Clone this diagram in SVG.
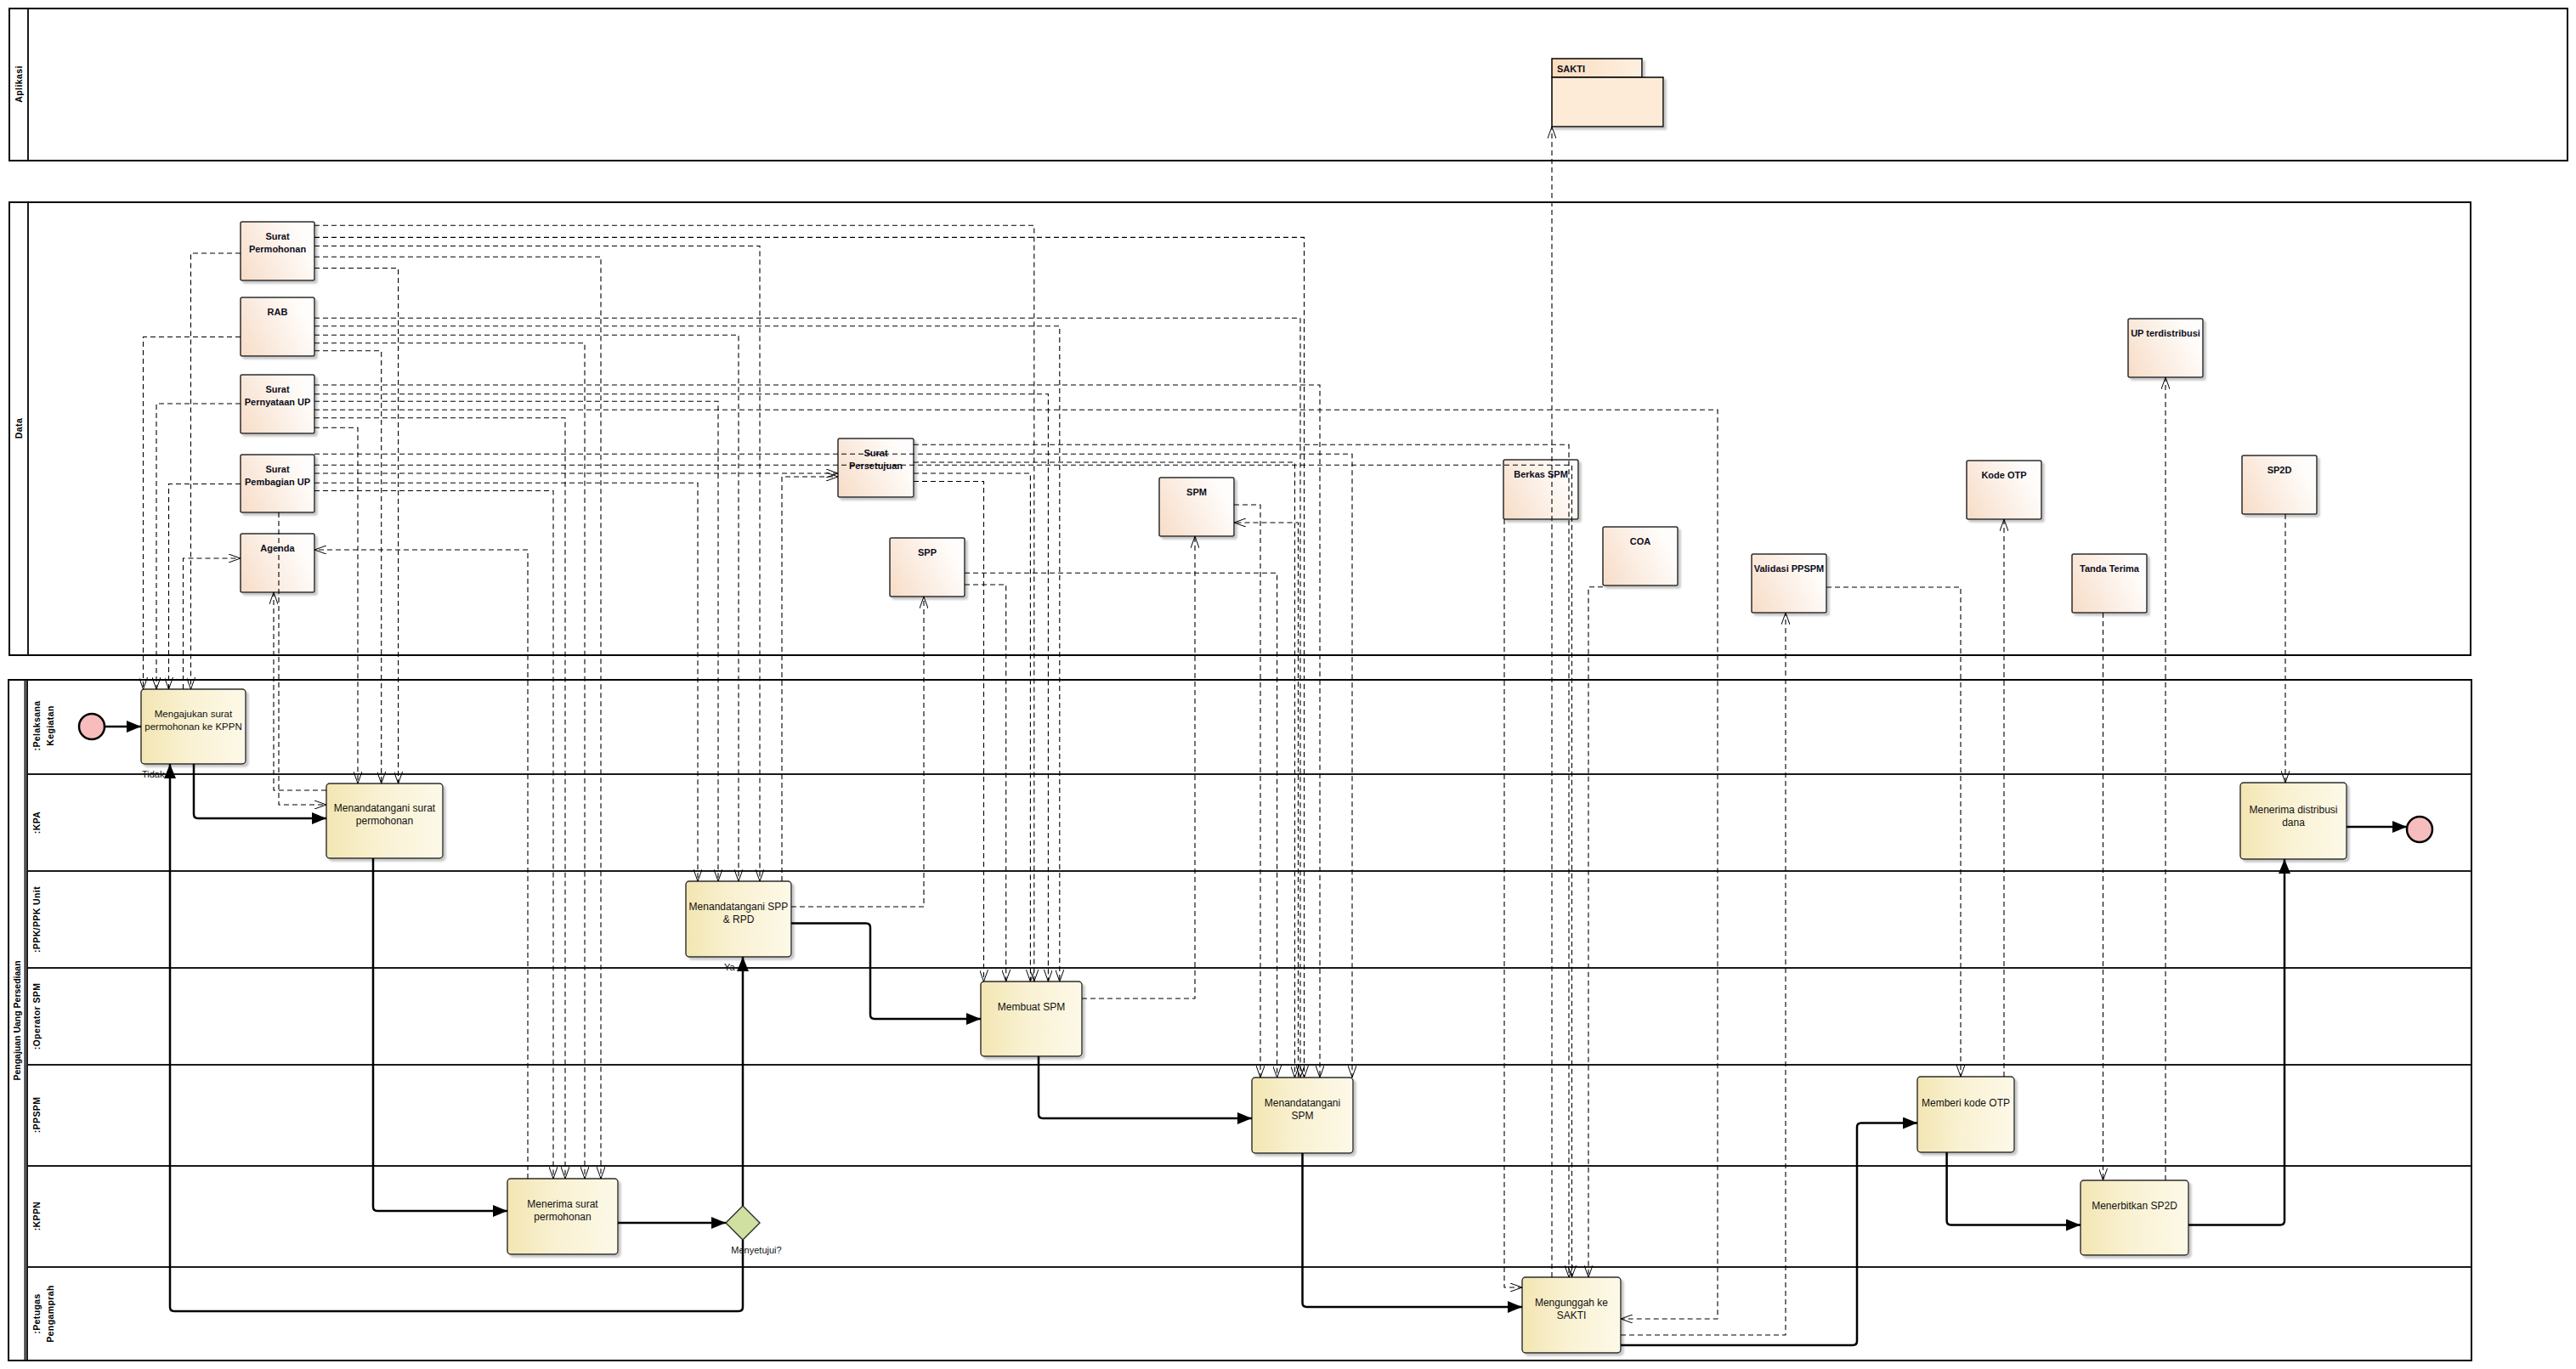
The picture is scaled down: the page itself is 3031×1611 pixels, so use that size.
<svg xmlns="http://www.w3.org/2000/svg" width="3031" height="1611" viewBox="0 0 3031 1611">
<defs>
<linearGradient id="gt" x1="0" y1="0" x2="1" y2="0"><stop offset="0" stop-color="#f3e6b3"/><stop offset="0.45" stop-color="#f9f1d2"/><stop offset="1" stop-color="#fdf9e8"/></linearGradient>
<linearGradient id="gd" x1="0" y1="1" x2="1" y2="0.6"><stop offset="0" stop-color="#f7dcc6"/><stop offset="0.5" stop-color="#fbede2"/><stop offset="1" stop-color="#fffdfb"/></linearGradient>
<linearGradient id="gk" x1="0" y1="0" x2="1" y2="0"><stop offset="0" stop-color="#fcdcbd"/><stop offset="1" stop-color="#fdf0e2"/></linearGradient>
<filter id="sh" x="-10%" y="-10%" width="130%" height="130%"><feDropShadow dx="3" dy="3" stdDeviation="1.2" flood-color="#9a9a9a" flood-opacity="0.55"/></filter>
<marker id="oa" viewBox="0 0 14 10" refX="14" refY="5" markerWidth="14" markerHeight="10" markerUnits="userSpaceOnUse" orient="auto"><path d="M0,0 L14,5 L0,10" fill="none" stroke="#000" stroke-width="1"/></marker>
<marker id="fa" viewBox="0 0 17 14" refX="17" refY="7" markerWidth="17" markerHeight="14" markerUnits="userSpaceOnUse" orient="auto"><path d="M0,0 L17,7 L0,14z" fill="#000"/></marker>
<style>
.pool{fill:#fff;stroke:#000;stroke-width:2}
.lane{stroke:#1a1a1a;stroke-width:2}
.task{fill:url(#gt);stroke:#2b2b2b;stroke-width:1.4;filter:url(#sh)}
.data{fill:url(#gd);stroke:#2b2b2b;stroke-width:1.5;filter:url(#sh)}
.tt{font-family:"Liberation Sans",Arial,sans-serif;font-size:12px;fill:#111;text-anchor:middle}
.dt{font-family:"Liberation Sans",Arial,sans-serif;font-size:11px;font-weight:bold;fill:#0d0d1a;text-anchor:middle}
.ll{font-family:"Liberation Sans",Arial,sans-serif;font-size:10.5px;font-weight:bold;fill:#000;text-anchor:middle;letter-spacing:0.4px}
.lb{font-family:"Liberation Sans",Arial,sans-serif;font-size:11px;fill:#111}
.d{fill:none;stroke:#000;stroke-width:1.1;stroke-dasharray:6 4;marker-end:url(#oa)}
.s{fill:none;stroke:#000;stroke-width:2.5;stroke-linejoin:round;marker-end:url(#fa)}
</style>
</defs>
<rect width="3031" height="1611" fill="#fff"/>

<g id="pool-aplikasi">
<rect class="pool" x="11" y="10" width="3010" height="179"/>
<line class="lane" x1="33" y1="10" x2="33" y2="189"/>
<text class="ll" transform="translate(26,99) rotate(-90)">Aplikasi</text>
</g>
<g id="pool-data">
<rect class="pool" x="11" y="238" width="2896" height="533"/>
<line class="lane" x1="33" y1="238" x2="33" y2="771"/>
<text class="ll" transform="translate(26,504) rotate(-90)">Data</text>
</g>
<g id="pool-proses">
<rect class="pool" x="10" y="800" width="2898" height="801"/>
<line class="lane" x1="29.5" y1="800" x2="29.5" y2="1601"/>
<line class="lane" x1="32" y1="800" x2="32" y2="1601"/>
<text class="ll" transform="translate(24,1201) rotate(-90)" style="letter-spacing:0">Pengajuan Uang Persediaan</text>
<line class="lane" x1="32" y1="911" x2="2908" y2="911"/>
<line class="lane" x1="32" y1="1025" x2="2908" y2="1025"/>
<line class="lane" x1="32" y1="1139" x2="2908" y2="1139"/>
<line class="lane" x1="32" y1="1253" x2="2908" y2="1253"/>
<line class="lane" x1="32" y1="1372" x2="2908" y2="1372"/>
<line class="lane" x1="32" y1="1491" x2="2908" y2="1491"/>
<text class="ll" transform="translate(47,854) rotate(-90)">:Pelaksana</text>
<text class="ll" transform="translate(63,854) rotate(-90)">Kegiatan</text>
<text class="ll" transform="translate(47,968) rotate(-90)">:KPA</text>
<text class="ll" transform="translate(47,1082) rotate(-90)">:PPK/PPK Unit</text>
<text class="ll" transform="translate(47,1196) rotate(-90)">:Operator SPM</text>
<text class="ll" transform="translate(47,1312) rotate(-90)">:PPSPM</text>
<text class="ll" transform="translate(47,1431) rotate(-90)">:KPPN</text>
<text class="ll" transform="translate(47,1546) rotate(-90)">:Petugas</text>
<text class="ll" transform="translate(63,1546) rotate(-90)">Pengamprah</text>
</g>

<g id="sakti">
<rect x="1826" y="69" width="106" height="22" fill="url(#gk)" stroke="#000" stroke-width="1.5" filter="url(#sh)"/>
<rect x="1826" y="91" width="131" height="58" fill="#fdebd8" stroke="#000" stroke-width="1.5" filter="url(#sh)"/>
<text class="dt" x="1832" y="85" style="text-anchor:start">SAKTI</text>
</g>

<g id="surat-permohonan"><rect class="data" x="283" y="261" width="87" height="69" rx="2"/><text class="dt" x="326.5" y="282">Surat</text><text class="dt" x="326.5" y="297">Permohonan</text></g>
<g id="rab"><rect class="data" x="283" y="350" width="87" height="69" rx="2"/><text class="dt" x="326.5" y="371">RAB</text></g>
<g id="surat-pernyataan-up"><rect class="data" x="283" y="441" width="87" height="69" rx="2"/><text class="dt" x="326.5" y="462">Surat</text><text class="dt" x="326.5" y="477">Pernyataan UP</text></g>
<g id="surat-pembagian-up"><rect class="data" x="283" y="535" width="87" height="68" rx="2"/><text class="dt" x="326.5" y="556">Surat</text><text class="dt" x="326.5" y="571">Pembagian UP</text></g>
<g id="agenda"><rect class="data" x="283" y="628" width="87" height="69" rx="2"/><text class="dt" x="326.5" y="649">Agenda</text></g>
<g id="surat-persetujuan"><rect class="data" x="986" y="516" width="89" height="69" rx="2"/><text class="dt" x="1030.5" y="537">Surat</text><text class="dt" x="1030.5" y="552">Persetujuan</text></g>
<g id="spp"><rect class="data" x="1047" y="633" width="88" height="69" rx="2"/><text class="dt" x="1091" y="654">SPP</text></g>
<g id="spm"><rect class="data" x="1364" y="562" width="88" height="69" rx="2"/><text class="dt" x="1408" y="583">SPM</text></g>
<g id="berkas-spm"><rect class="data" x="1769" y="541" width="88" height="70" rx="2"/><text class="dt" x="1813" y="562">Berkas SPM</text></g>
<g id="coa"><rect class="data" x="1886" y="620" width="88" height="69" rx="2"/><text class="dt" x="1930" y="641">COA</text></g>
<g id="validasi-ppspm"><rect class="data" x="2061" y="652" width="88" height="69" rx="2"/><text class="dt" x="2105" y="673">Validasi PPSPM</text></g>
<g id="kode-otp"><rect class="data" x="2314" y="542" width="88" height="69" rx="2"/><text class="dt" x="2358" y="563">Kode OTP</text></g>
<g id="tanda-terima"><rect class="data" x="2438" y="652" width="88" height="69" rx="2"/><text class="dt" x="2482" y="673">Tanda Terima</text></g>
<g id="up-terdistribusi"><rect class="data" x="2504" y="375" width="88" height="69" rx="2"/><text class="dt" x="2548" y="396">UP terdistribusi</text></g>
<g id="sp2d"><rect class="data" x="2638" y="536" width="88" height="69" rx="2"/><text class="dt" x="2682" y="557">SP2D</text></g>

<g id="start"><circle cx="108" cy="855" r="15" fill="#f7bcbc" stroke="#000" stroke-width="2.5"/></g>
<g id="t-mengajukan"><rect class="task" x="166" y="811" width="123" height="88" rx="4"/><text class="tt" x="227.5" y="844" style="font-size:11.5px">Mengajukan surat</text><text class="tt" x="227.5" y="859" style="font-size:11.5px">permohonan ke KPPN</text></g>
<g id="t-ttd-surat"><rect class="task" x="384" y="922" width="137" height="88" rx="4"/><text class="tt" x="452.5" y="955">Menandatangani surat</text><text class="tt" x="452.5" y="970">permohonan</text></g>
<g id="t-ttd-spp"><rect class="task" x="807" y="1037" width="124" height="89" rx="4"/><text class="tt" x="869" y="1071">Menandatangani SPP</text><text class="tt" x="869" y="1086">&amp; RPD</text></g>
<g id="t-menerima-surat"><rect class="task" x="597" y="1387" width="130" height="89" rx="4"/><text class="tt" x="662" y="1421">Menerima surat</text><text class="tt" x="662" y="1436">permohonan</text></g>
<g id="gw-menyetujui"><polygon points="874,1419 894,1439 874,1459 854,1439" fill="#cfe0a1" stroke="#2b2b2b" stroke-width="1.4"/><text class="lb" x="890" y="1475" style="text-anchor:middle">Menyetujui?</text></g>
<g id="t-membuat-spm"><rect class="task" x="1154" y="1155" width="119" height="88" rx="4"/><text class="tt" x="1213.5" y="1189">Membuat SPM</text></g>
<g id="t-ttd-spm"><rect class="task" x="1473" y="1268" width="119" height="89" rx="4"/><text class="tt" x="1532.5" y="1302">Menandatangani</text><text class="tt" x="1532.5" y="1317">SPM</text></g>
<g id="t-mengunggah"><rect class="task" x="1791" y="1503" width="116" height="89" rx="4"/><text class="tt" x="1849" y="1537">Mengunggah ke</text><text class="tt" x="1849" y="1552">SAKTI</text></g>
<g id="t-memberi-otp"><rect class="task" x="2256" y="1267" width="114" height="89" rx="4"/><text class="tt" x="2313" y="1302">Memberi kode OTP</text></g>
<g id="t-menerbitkan"><rect class="task" x="2448" y="1389" width="127" height="88" rx="4"/><text class="tt" x="2511.5" y="1423">Menerbitkan SP2D</text></g>
<g id="t-menerima-dana"><rect class="task" x="2636" y="921" width="125" height="90" rx="4"/><text class="tt" x="2698.5" y="957">Menerima distribusi</text><text class="tt" x="2698.5" y="972">dana</text></g>
<g id="end"><circle cx="2847" cy="976" r="15" fill="#f7bcbc" stroke="#000" stroke-width="2.5"/></g>

<g id="connectors">
<path class="d" d="M283,298 H224.5 V811"/>
<path class="d" d="M283,396.5 H168.5 V811"/>
<path class="d" d="M283,475 H184 V811"/>
<path class="d" d="M283,569.5 H198.5 V811"/>
<path class="d" d="M215.5,811 V657 H283"/>
<path class="d" d="M370,315.5 H468.6 V922"/>
<path class="d" d="M370,412.7 H448.7 V922"/>
<path class="d" d="M370,503.3 H421 V922"/>
<path class="d" d="M328,603 V947 H384"/>
<path class="d" d="M384,930 H322 V697"/>
<path class="d" d="M370,302.3 H707 V1387"/>
<path class="d" d="M370,403.7 H688 V1387"/>
<path class="d" d="M370,491.7 H665 V1387"/>
<path class="d" d="M370,577.5 H651 V1387"/>
<path class="d" d="M621,1387 V647 H370"/>
<path class="d" d="M370,289.5 H894 V1037"/>
<path class="d" d="M370,394.3 H869 V1037"/>
<path class="d" d="M370,472.3 H845 V1037"/>
<path class="d" d="M370,568.3 H821 V1037"/>
<path class="d" d="M920,1037 V561 H986"/>
<path class="d" d="M931,1067 H1087 V702"/>
<path class="d" d="M370,557 H986"/>
<path class="d" d="M1075,566.5 H1157.5 V1155"/>
<path class="d" d="M1135,688 H1183.7 V1155"/>
<path class="d" d="M1075,557 H1212.4 V1155"/>
<path class="d" d="M370,265.2 H1216.8 V1155"/>
<path class="d" d="M370,463.7 H1233.4 V1155"/>
<path class="d" d="M370,383.7 H1246.8 V1155"/>
<path class="d" d="M1273,1175 H1406 V631"/>
<path class="d" d="M1452,594 H1483 V1268"/>
<path class="d" d="M1135,674.3 H1502.6 V1268"/>
<path class="d" d="M1075,544 H1523.5 V1268"/>
<path class="d" d="M1527.5,1268 V615 H1452"/>
<path class="d" d="M370,374.3 H1530 V1268"/>
<path class="d" d="M370,279.4 H1534.5 V1268"/>
<path class="d" d="M370,453 H1553 V1268"/>
<path class="d" d="M370,534.2 H1591 V1268"/>
<path class="d" d="M1826,1503 V149"/>
<path class="d" d="M1075,523.3 H1846 V1503"/>
<path class="d" d="M370,547.3 H1849.5 V1503"/>
<path class="d" d="M1886,690.7 H1869 V1503"/>
<path class="d" d="M1770,611 V1515 H1791"/>
<path class="d" d="M370,482.3 H2021 V1552 H1907"/>
<path class="d" d="M1907,1571 H2101 V721"/>
<path class="d" d="M2149,691 H2307 V1267"/>
<path class="d" d="M2358,1267 V611"/>
<path class="d" d="M2474.5,721 V1389"/>
<path class="d" d="M2548,1389 V444"/>
<path class="d" d="M2689,605 V921"/>
<path class="s" d="M123,855 H166"/>
<path class="s" d="M228,899 V958 Q228,963 233,963 H384"/>
<path class="s" d="M439,1010 V1420 Q439,1425 444,1425 H597"/>
<path class="s" d="M727,1439 H854"/>
<path class="s" d="M874,1419 V1126"/>
<path class="s" d="M874,1459 V1538 Q874,1543 869,1543 H205 Q200,1543 200,1538 V899"/>
<path class="s" d="M931,1086.5 H1019 Q1024,1086.5 1024,1091.5 V1194 Q1024,1199 1029,1199 H1154"/>
<path class="s" d="M1222,1243 V1311 Q1222,1316 1227,1316 H1473"/>
<path class="s" d="M1532.5,1357 V1533 Q1532.5,1538 1537.5,1538 H1791"/>
<path class="s" d="M1907,1583 H2180 Q2185,1583 2185,1578 V1326.5 Q2185,1321.5 2190,1321.5 H2256"/>
<path class="s" d="M2290.6,1356 V1436.6 Q2290.6,1441.6 2295.6,1441.6 H2448"/>
<path class="s" d="M2575,1441.6 H2683 Q2688,1441.6 2688,1436.6 V1011"/>
<path class="s" d="M2761,973 H2832"/>
<text class="lb" x="167" y="915">Tidak</text>
<text class="lb" x="852" y="1142">Ya</text>
</g>
</svg>
